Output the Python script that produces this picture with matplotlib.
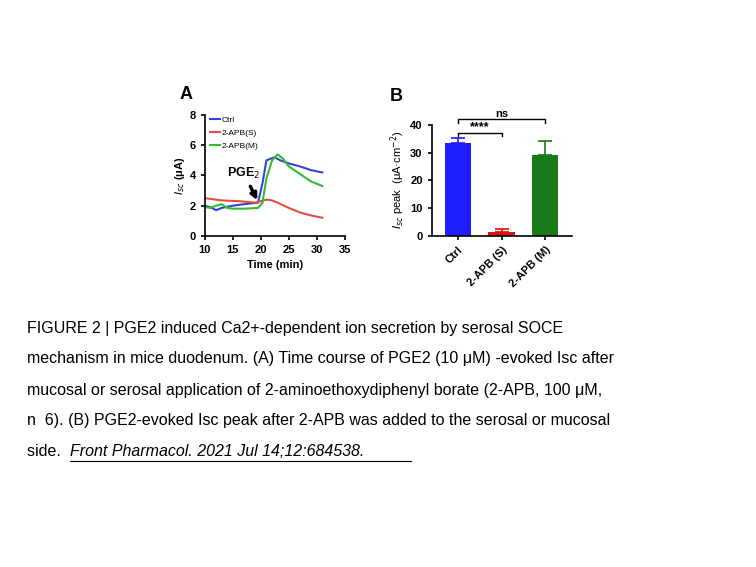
import matplotlib
matplotlib.use("Agg")
import matplotlib.pyplot as plt

t_ctrl = [10, 11, 12, 13, 15, 17, 19.5, 20.3, 21, 22, 22.5, 23.5, 25, 27, 29, 31]
ctrl = [2.0, 1.9, 1.7, 1.85, 2.0, 2.1, 2.2, 3.5, 5.0, 5.15, 5.2, 5.0, 4.8, 4.6, 4.35, 4.2]
t_s = [10, 13, 16, 19, 20, 21, 22, 23, 25, 27, 29, 31]
s = [2.5, 2.35, 2.3, 2.2, 2.3, 2.4, 2.35, 2.2, 1.85, 1.55, 1.35, 1.2]
t_m = [10, 11, 12, 13, 14, 15, 17, 19.5, 20.3, 21, 22, 23, 24, 25, 27, 29, 31]
m = [1.9, 1.85, 2.0, 2.1, 1.85, 1.8, 1.8, 1.85, 2.2, 3.8, 5.0, 5.4, 5.1, 4.6, 4.1, 3.6, 3.3]

bar_cats = ["Ctrl", "2-APB (S)", "2-APB (M)"]
bar_vals = [33.5, 1.3, 29.0]
bar_err = [1.8, 1.0, 5.2]
bar_cols = ["#1f1fff", "#e01010", "#1a7a1a"]

plt.rcParams["font.family"] = "Liberation Sans"
fig = plt.figure(figsize=(7.56, 5.67), dpi=100)

ax = fig.add_axes([0.271, 0.584, 0.185, 0.213])
ax.plot(t_ctrl, ctrl, color="#3344dd", lw=1.5)
ax.plot(t_s, s, color="#e05040", lw=1.5)
ax.plot(t_m, m, color="#33bb33", lw=1.5)
ax.set_xlim(10, 35); ax.set_ylim(0, 8)
ax.set_xticks([10, 15, 20, 25, 30, 35]); ax.set_yticks([0, 2, 4, 6, 8])
ax.tick_params(labelsize=8, length=3, width=1.2)
for sp in ["top", "right"]: ax.spines[sp].set_visible(False)
for sp in ["left", "bottom"]: ax.spines[sp].set_linewidth(1.2)
ax.set_xlabel("Time (min)", fontsize=8, fontweight="bold")
ax.set_ylabel(r"$I_{sc}$ (μA)", fontsize=8, fontweight="bold", labelpad=2)
ax.legend(["Ctrl", "2-APB(S)", "2-APB(M)"], loc="upper left", bbox_to_anchor=(-0.02, 1.05),
          frameon=False, fontsize=6, handlelength=1.2, handletextpad=0.3, labelspacing=0.6)
ax.annotate(r"PGE$_2$", xy=(19.6, 2.2), xytext=(14, 3.9), fontsize=9, fontweight="bold",
            arrowprops=dict(arrowstyle="-|>", color="black", lw=2.5))
for lbl in ax.get_xticklabels() + ax.get_yticklabels(): lbl.set_fontweight("bold")
fig.text(0.238, 0.825, "A", fontsize=13, fontweight="bold")

bx = fig.add_axes([0.571, 0.584, 0.185, 0.196])
x = list(range(len(bar_cats)))
bx.bar(x, bar_vals, width=0.6, color=bar_cols)
for xi, v, e, c in zip(x, bar_vals, bar_err, bar_cols):
    bx.errorbar([xi], [v], yerr=[[0], [e]], fmt="none", ecolor=c, capsize=5,
                elinewidth=1.2, capthick=1.2)
bx.set_xlim(-0.6, 2.6); bx.set_ylim(0, 40)
bx.set_yticks([0, 10, 20, 30, 40])
bx.set_xticks(x); bx.set_xticklabels(bar_cats, rotation=45, ha="right", rotation_mode="anchor",
                                     fontsize=8, fontweight="bold")
bx.tick_params(labelsize=8, length=3, width=1.2)
for lbl in bx.get_yticklabels(): lbl.set_fontweight("bold")
for sp in ["top", "right"]: bx.spines[sp].set_visible(False)
for sp in ["left", "bottom"]: bx.spines[sp].set_linewidth(1.2)
bx.set_ylabel(r"$I_{sc}$ peak  (μA·cm$^{-2}$)", fontsize=8, labelpad=2)
def bracket(x1, x2, y, h, txt, fs):
    bx.plot([x1, x1, x2, x2], [y - h, y, y, y - h], color="black", lw=1, clip_on=False)
    bx.text((x1 + x2) / 2, y, txt, ha="center", va="bottom", fontsize=fs, fontweight="bold")
bracket(0, 1, 37, 1.2, "****", 9)
bracket(0, 2, 42, 1.2, "ns", 8)
fig.text(0.515, 0.822, "B", fontsize=13, fontweight="bold")

cap = ["FIGURE 2 | PGE2 induced Ca2+-dependent ion secretion by serosal SOCE",
       "mechanism in mice duodenum. (A) Time course of PGE2 (10 μM) -evoked Isc after",
       "mucosal or serosal application of 2-aminoethoxydiphenyl borate (2-APB, 100 μM,",
       "n  6). (B) PGE2-evoked Isc peak after 2-APB was added to the serosal or mucosal"]
for i, line in enumerate(cap):
    fig.text(0.036, 1 - (328 + i * 31) / 567, line, fontsize=11.5, va="center")
fig.text(0.036, 1 - 452 / 567, "side. ", fontsize=11.5, va="center")
fig.text(0.036 + 0.056, 1 - 452 / 567, "Front Pharmacol. 2021 Jul 14;12:684538.", fontsize=11.5,
         va="center", style="italic")
fig.add_artist(plt.Line2D([0.092, 0.544], [1 - 461 / 567] * 2, color="black", lw=0.8))
fig.savefig("out.png", dpi=100)
